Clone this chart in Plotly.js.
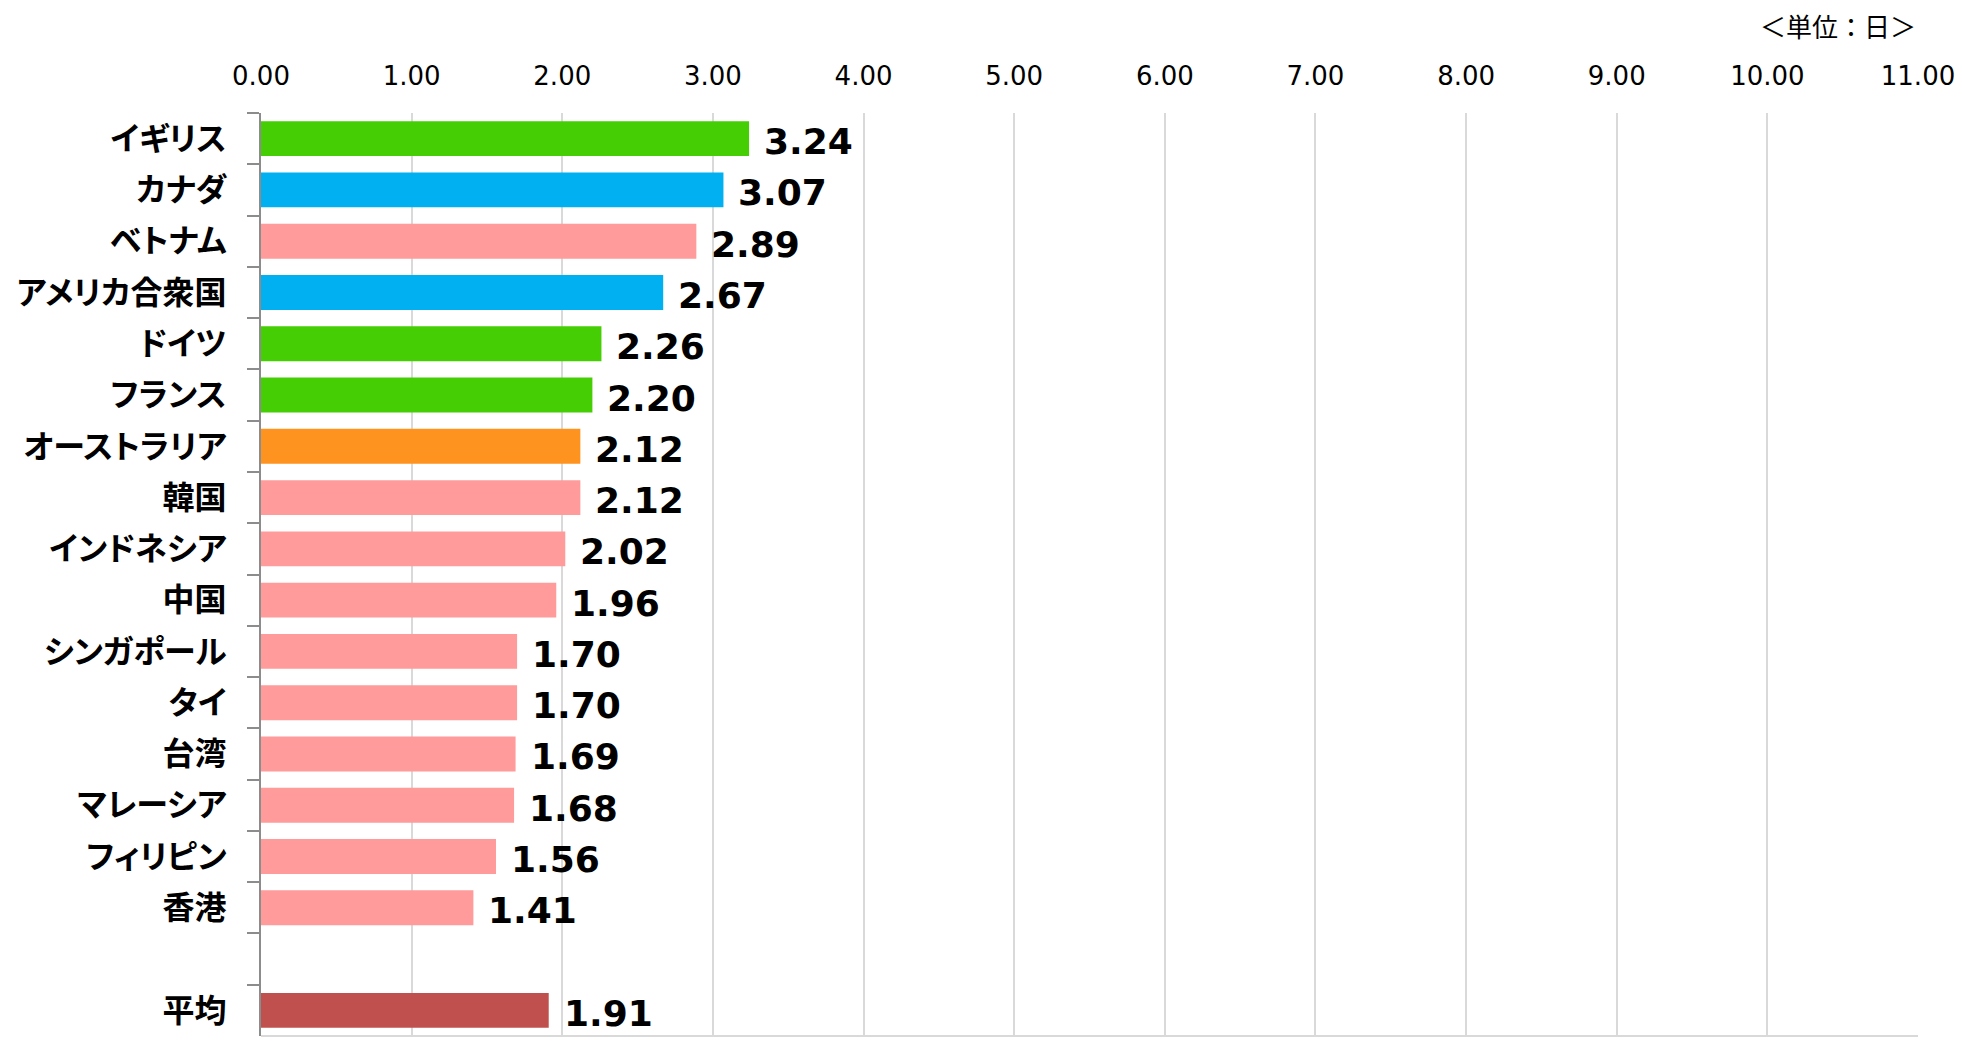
<!DOCTYPE html>
<html>
<head>
<meta charset="utf-8">
<script src="https://cdn.plot.ly/plotly-3.0.1.min.js"></script>
<style>html,body{margin:0;padding:0;background:#fff;}#chart{width:1962px;height:1041px;}
#chart .ytick text{font-feature-settings:"palt" 1;}</style>
</head>
<body>
<div id="chart"></div>
<script>
const categories = ["イギリス","カナダ","ベトナム","アメリカ合衆国","ドイツ","フランス","オーストラリア","韓国","インドネシア","中国","シンガポール","タイ","台湾","マレーシア","フィリピン","香港"," ","平均"];
const values = [3.24,3.07,2.89,2.67,2.26,2.20,2.12,2.12,2.02,1.96,1.70,1.70,1.69,1.68,1.56,1.41,null,1.91];
const barColors = ["#46CE05","#00B0F0","#FF9B9B","#00B0F0","#46CE05","#46CE05","#FF931F","#FF9B9B","#FF9B9B","#FF9B9B","#FF9B9B","#FF9B9B","#FF9B9B","#FF9B9B","#FF9B9B","#FF9B9B","#FFFFFF","#C0504D"];
const xTicks = [0,1,2,3,4,5,6,7,8,9,10,11];
const unitLabel = "＜単位：日＞";

const trace = {
  type: "bar",
  orientation: "h",
  y: categories,
  x: values,
  marker: {color: barColors},
  hoverinfo: "skip"
};

const annotations = [];
categories.forEach((c, i) => {
  if (values[i] === null) return;
  annotations.push({
    x: values[i], y: c, xref: "x", yref: "y",
    text: values[i].toFixed(2),
    showarrow: false, xanchor: "left", yanchor: "middle",
    xshift: 13, yshift: -3,
    font: {family: "DejaVu Sans", size: 36, color: "#000", weight: "bold"}
  });
});
annotations.push({
  x: 1, y: 1.0953, xref: "paper", yref: "paper",
  text: unitLabel, showarrow: false, xanchor: "right", yanchor: "middle",
  font: {family: "Noto Sans CJK JP", size: 26, color: "#000"}
});

const layout = {
  width: 1962, height: 1041,
  margin: {l: 261, r: 44, t: 113, b: 5, pad: 0},
  paper_bgcolor: "#fff", plot_bgcolor: "#fff",
  showlegend: false,
  bargap: 0.32,
  xaxis: {
    side: "top", range: [0, 11], tickvals: xTicks, tickformat: ".2f",
    showgrid: true, gridcolor: "#D9D9D9", gridwidth: 2,
    zeroline: false, showline: false, ticks: "",
    ticklabelstandoff: 22,
    tickfont: {family: "DejaVu Sans", size: 26, color: "#000"}
  },
  yaxis: {
    type: "category", autorange: "reversed",
    showline: true, linecolor: "#8C8C8C", linewidth: 2,
    ticks: "outside", ticklen: 12, tickwidth: 2, tickcolor: "#8C8C8C",
    tickson: "boundaries", showgrid: false, zeroline: false,
    ticklabelstandoff: 26,
    tickfont: {family: "Noto Sans CJK JP", size: 32, color: "#000", weight: "bold"}
  },
  shapes: [{type: "line", xref: "paper", yref: "paper", x0: 0, x1: 1, y0: 0, y1: 0, line: {color: "#D9D9D9", width: 2}}],
  annotations: annotations
};

Plotly.newPlot("chart", [trace], layout, {staticPlot: true, displayModeBar: false});
</script>
</body>
</html>
